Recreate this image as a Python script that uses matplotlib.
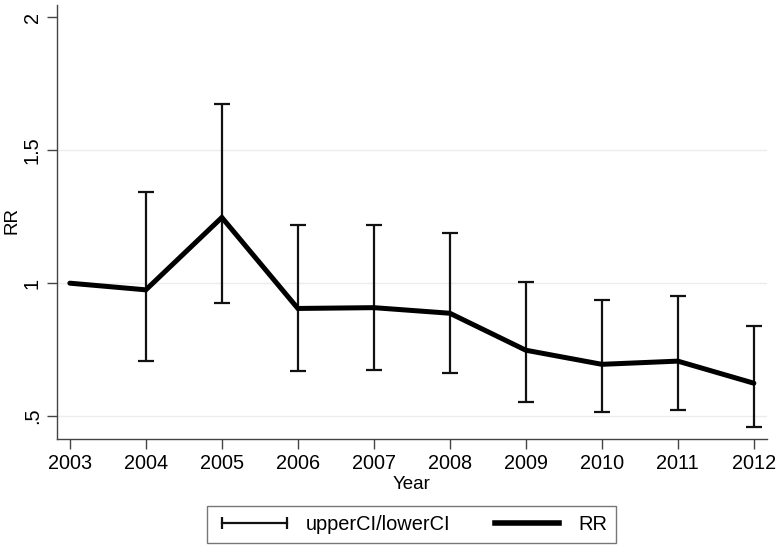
import matplotlib
matplotlib.use("Agg")
import matplotlib.pyplot as plt
from matplotlib.lines import Line2D

years = [2003, 2004, 2005, 2006, 2007, 2008, 2009, 2010, 2011, 2012]
rr = [1.0, 0.975, 1.247, 0.905, 0.908, 0.887, 0.748, 0.695, 0.707, 0.624]
upper_ci = [None, 1.344, 1.673, 1.220, 1.219, 1.190, 1.005, 0.936, 0.950, 0.840]
lower_ci = [None, 0.708, 0.927, 0.669, 0.675, 0.662, 0.555, 0.516, 0.525, 0.460]
yticks = [0.5, 1.0, 1.5, 2.0]
ytick_labels = [".5", "1", "1.5", "2"]
grid_levels = [0.5, 1.0, 1.5]

plt.rcParams['font.family'] = ['Liberation Sans', 'DejaVu Sans']
fig = plt.figure(figsize=(7.8, 5.49), dpi=100)
ax = fig.add_axes([0.073, 0.2, 0.91, 0.791])

for v in grid_levels:
    ax.axhline(v, color='#ececec', lw=1.0, zorder=0)

ex = [y for y, u in zip(years, upper_ci) if u is not None]
ey = [r for r, u in zip(rr, upper_ci) if u is not None]
eu = [u for u in upper_ci if u is not None]
el = [l for l in lower_ci if l is not None]
ax.errorbar(ex, ey, yerr=[[r - l for r, l in zip(ey, el)], [u - r for r, u in zip(ey, eu)]],
            fmt='none', ecolor='#111111', elinewidth=1.6, capsize=5.5, capthick=1.6, zorder=2)
ax.plot(years, rr, color='black', lw=3.6, solid_capstyle='round', solid_joinstyle='miter', zorder=3)

ax.set_xlim(2002.83, 2012.17)
ax.set_ylim(0.4135, 2.046)
ax.set_xticks(years)
ax.set_xticklabels([str(y) for y in years], fontsize=14.3)
ax.set_yticks(yticks)
ax.set_yticklabels(ytick_labels, fontsize=14.3, rotation=90, va='center')
ax.tick_params(direction='out', length=7, width=1, color='#444444', pad=4)
for s in ['top', 'right']:
    ax.spines[s].set_visible(False)
for s in ['left', 'bottom']:
    ax.spines[s].set_color('#444444')
    ax.spines[s].set_linewidth(1.0)

cx = 0.073 + 0.91 / 2
fig.text(cx, 0.118, "Year", ha='center', va='center', fontsize=13.5)
fig.text(0.016, 0.599, "RR", ha='center', va='center', fontsize=13.5, rotation=90)

h1 = Line2D([], [], color='#111111', lw=1.6, marker='|', markersize=8, markeredgewidth=1.6)
h2 = Line2D([], [], color='black', lw=4)
leg = fig.legend([h1, h2], ["upperCI/lowerCI", "RR"], loc='center', bbox_to_anchor=(cx, 0.0455),
                 ncol=2, fontsize=14.4, frameon=True, fancybox=False, numpoints=2,
                 handlelength=3.83, columnspacing=1.9, handletextpad=0.65, borderpad=0.45)
leg.get_frame().set_edgecolor('#555555')
leg.get_frame().set_linewidth(1.0)

fig.savefig("out.png", dpi=100)
